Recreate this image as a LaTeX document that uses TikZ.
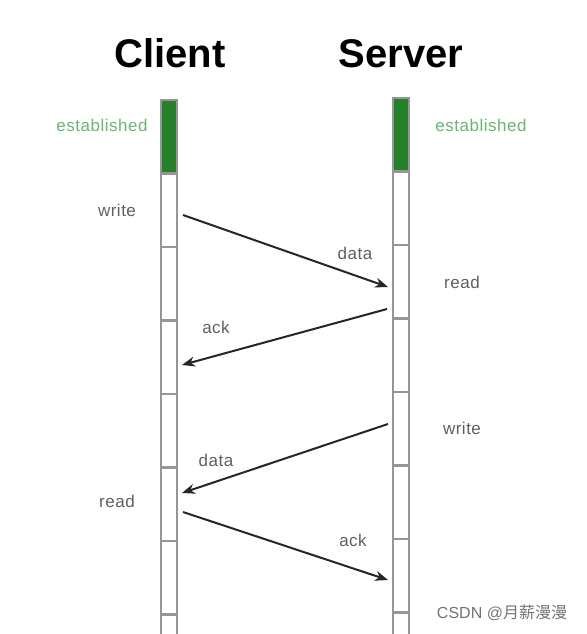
\documentclass[tikz,border=0pt]{standalone}
\usepackage{fontspec}
\setmainfont{Liberation Sans}
\newfontfamily\cjk{Noto Sans CJK SC}
\usetikzlibrary{arrows.meta, positioning}

\definecolor{estgreen}{RGB}{38,128,42}
\definecolor{esttext}{RGB}{105,182,115}
\definecolor{lblgray}{RGB}{95,95,95}
\definecolor{colgray}{RGB}{150,150,150}

\begin{document}
\begin{tikzpicture}[
    x=1pt, y=-1pt,
    title/.style={font=\fontsize{40}{44}\selectfont\bfseries, text=black, inner sep=0pt},
    cell/.style={rectangle, draw=colgray, line width=2.4pt, fill=white,
                 minimum width=16pt, minimum height=73.5pt, inner sep=0pt},
    estcell/.style={cell, fill=estgreen},
    state/.style={font=\fontsize{17}{19}\selectfont\addfontfeature{LetterSpace=3},
                  text=lblgray, inner sep=0pt},
    eststate/.style={state, text=esttext},
    msglabel/.style={state},
    msg/.style={-{Stealth[length=13pt, width=10pt]}, line width=2pt, draw=black!85},
]
\useasboundingbox (0,0) rectangle (586,634);
\clip (0,0) rectangle (586,634);

% Titles
\node[title, anchor=base] (client) at (170,67) {Client};
\node[title, anchor=base] (server) at (401,67) {Server};

% --- Client timeline ---
\node[estcell] (c0) at (169,136.75) {};
\foreach \i in {1,...,7}
  \node[cell] (c\i) at (169,136.75+73.5*\i) {};

% --- Server timeline ---
\node[estcell] (s0) at (401,134.75) {};
\foreach \i in {1,...,7}
  \node[cell] (s\i) at (401,134.75+73.5*\i) {};

% States
\node[eststate] (cest) at (102,125) {established};
\node[eststate] (sest) at (481,125) {established};
\node[state] (cwrite) at (117,210) {write};
\node[state] (cread) at (117,501) {read};
\node[state] (sread) at (462,282) {read};
\node[state] (swrite) at (462,428) {write};

% Message end points
\coordinate (m1a) at (183,215);
\coordinate (m1b) at (388,287);
\coordinate (m2a) at (387,309);
\coordinate (m2b) at (182,365);
\coordinate (m3a) at (388,424);
\coordinate (m3b) at (182,493);
\coordinate (m4a) at (183,512);
\coordinate (m4b) at (388,580);

% --- Messages ---
\draw[msg] (m1a) -- (m1b);
\draw[msg] (m2a) -- (m2b);
\draw[msg] (m3a) -- (m3b);
\draw[msg] (m4a) -- (m4b);

\node[msglabel] (l1) at (355,253) {data};
\node[msglabel] (l2) at (216,327) {ack};
\node[msglabel] (l3) at (216,460) {data};
\node[msglabel] (l4) at (353,540) {ack};

% Watermark
\node[font=\fontsize{16}{18}\selectfont, text=black!55, inner sep=0pt]
  (mark) at (502,613) {CSDN @{\cjk 月薪漫漫}};

\end{tikzpicture}
\end{document}
